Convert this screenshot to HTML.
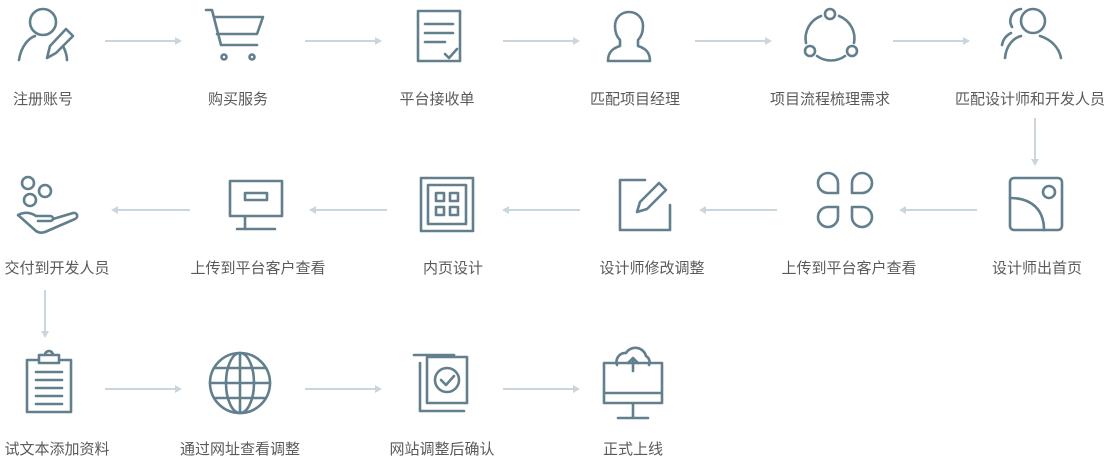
<!DOCTYPE html>
<html><head><meta charset="utf-8"><style>
html,body{margin:0;padding:0;background:#fff;width:1110px;height:461px;overflow:hidden}
text{font-family:"Liberation Sans","Noto Sans CJK SC",sans-serif;font-size:15px;fill:#5a5a5a;text-anchor:middle}
.i{fill:none;stroke:#627f8d;stroke-width:2.6;stroke-linecap:round;stroke-linejoin:round}
.a{stroke:#c9d6de;stroke-width:2;fill:none}
.h{fill:#c9d6de}
</style></head><body>
<svg width="1110" height="461" viewBox="0 0 1110 461">
<g>
<line class="a" x1="105" y1="41" x2="177" y2="41"/><path class="h" d="M182 41l-7-4v8z"/>
<line class="a" x1="305" y1="41" x2="377" y2="41"/><path class="h" d="M382 41l-7-4v8z"/>
<line class="a" x1="503" y1="41" x2="575" y2="41"/><path class="h" d="M580 41l-7-4v8z"/>
<line class="a" x1="695" y1="41" x2="767" y2="41"/><path class="h" d="M772 41l-7-4v8z"/>
<line class="a" x1="893" y1="41" x2="965" y2="41"/><path class="h" d="M970 41l-7-4v8z"/>
<line class="a" x1="1035" y1="118" x2="1035" y2="160"/><path class="h" d="M1035 166l-4-7h8z"/>
<line class="a" x1="190" y1="210" x2="117" y2="210"/><path class="h" d="M111 210l7-4v8z"/>
<line class="a" x1="387" y1="210" x2="315" y2="210"/><path class="h" d="M309 210l7-4v8z"/>
<line class="a" x1="580" y1="210" x2="508" y2="210"/><path class="h" d="M502 210l7-4v8z"/>
<line class="a" x1="777" y1="210" x2="705" y2="210"/><path class="h" d="M699 210l7-4v8z"/>
<line class="a" x1="977" y1="210" x2="905" y2="210"/><path class="h" d="M899 210l7-4v8z"/>
<line class="a" x1="45" y1="290" x2="45" y2="332"/><path class="h" d="M45 338l-4-7h8z"/>
<line class="a" x1="105" y1="389" x2="177" y2="389"/><path class="h" d="M182 389l-7-4v8z"/>
<line class="a" x1="305" y1="389" x2="377" y2="389"/><path class="h" d="M382 389l-7-4v8z"/>
<line class="a" x1="503" y1="389" x2="575" y2="389"/><path class="h" d="M580 389l-7-4v8z"/>
</g>
<g class="i">
<circle cx="43" cy="22" r="13"/><path d="M19 60c2-14 10-22 16-24M67 60c0-5-2-10-4-14"/><path d="M47 58l3-12 16-17 7 7-17 17z"/>
<path d="M206 10h6l9 35h36M214 17h49l-6 17h-40"/><circle cx="224" cy="57" r="2.5"/><circle cx="252" cy="57" r="2.5"/>
<path d="M418 11h42v50h-42z"/><path d="M425 24h28M425 33h28M425 42h20M445 54l4 4 8-9"/>
<path d="M608 61c0-10 6-13 12-15v-6c-4-4-5-9-5-14 0-8 6-14 14-14s14 6 14 14c0 5-1 10-5 14v6c6 2 12 5 12 15z"/>
<circle cx="830" cy="14" r="5"/><circle cx="810" cy="51" r="5"/><circle cx="852" cy="51" r="5"/><path d="M821 16a24 24 0 0 0-15 27M839 16a24 24 0 0 1 15 27M817 56a24 24 0 0 0 28 0"/>
<circle cx="1033" cy="21" r="12"/><path d="M1005 58c1-12 8-20 16-22"/><path d="M1012 27a12 12 0 0 1 9-18M1040 36c10 3 19 11 21 22M1002 45c1-6 5-10 9-12"/>
</g>
<g class="i">
<circle cx="28" cy="183" r="6"/><circle cx="45" cy="191" r="6"/><circle cx="30" cy="200" r="6"/>
<path d="M18 215l18 16c3 2 6 2 9 1l30-13c4-2 2-7-2-6l-20 6M18 215c6-3 12-3 18 1h14c4 0 4 5 0 5H38"/>
<path d="M230 181h52v35h-52zM245 216v12M237 229h38M245 193h22v7h-22z"/>
<path d="M421 178h52v53h-52z"/><path d="M428 185h38v39h-38z"/><path d="M436 193h8v8h-8zM450 193h8v8h-8zM436 207h8v8h-8zM450 207h8v8h-8z"/>
<path d="M645 180h-25v50h50v-25"/><path d="M637 212l3-10 19-19 7 7-19 19z"/>
<path d="M838 193h-10a10 10 0 1 1 10-10zM852 193h10a10 10 0 1 0-10-10zM838 207h-10a10 10 0 1 0 10 10zM852 207h10a10 10 0 1 1-10 10z"/>
<rect x="1010" y="178" width="52" height="52" rx="4"/><path d="M1010 198c22 0 34 12 34 32"/><circle cx="1049" cy="192" r="6"/>
</g>
<g class="i" stroke-width="2">
<path d="M39 360h-12v52h44v-52h-12M39 355h20v8h-20zM45 355a4 4 0 0 1 8 0"/><path d="M36 372h26M36 380h26M36 388h26M36 396h26M36 404h26"/>
<circle cx="240" cy="383" r="30"/><ellipse cx="240" cy="383" rx="14" ry="30"/><path d="M210 383h60M214 368h52M214 398h52M240 353v60"/>
<path d="M420 363v48h44M414 355h40v44"/><path d="M427 357h40v46h-40z" fill="#fff"/><circle cx="447" cy="380" r="12"/><path d="M441 380l5 5 8-9"/>
<path d="M604 363h58v40h-58zM604 393h58M633 403v14M618 418h30"/><path d="M617 365a9 9 0 0 1 9-12a11 11 0 0 1 20 3a7 7 0 0 1 3 9"/><path d="M633 371v-13M628 363l5-5 5 5"/>
</g>
<text x="43" y="104">注册账号</text>
<text x="238" y="104">购买服务</text>
<text x="437" y="104">平台接收单</text>
<text x="635" y="104">匹配项目经理</text>
<text x="830" y="104">项目流程梳理需求</text>
<text x="1030" y="104">匹配设计师和开发人员</text>
<text x="57" y="273">交付到开发人员</text>
<text x="258" y="273">上传到平台客户查看</text>
<text x="453" y="273">内页设计</text>
<text x="652" y="273">设计师修改调整</text>
<text x="849" y="273">上传到平台客户查看</text>
<text x="1037" y="273">设计师出首页</text>
<text x="57" y="454">试文本添加资料</text>
<text x="240" y="454">通过网址查看调整</text>
<text x="442" y="454">网站调整后确认</text>
<text x="633" y="454">正式上线</text>
</svg>
</body></html>
